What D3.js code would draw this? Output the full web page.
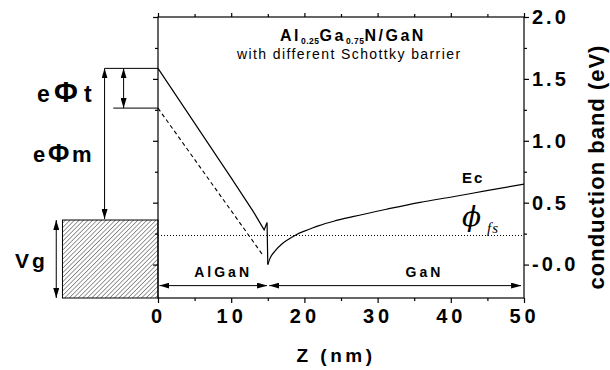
<!DOCTYPE html>
<html>
<head>
<meta charset="utf-8">
<script src="https://cdn.jsdelivr.net/npm/d3@7"></script>
<style>
  body { margin: 0; background: #fff; }
  svg { display: block; font-family: "Liberation Sans", Arial, sans-serif; }
  .axis path, .axis line { stroke: #000; stroke-width: 1.2; }
  .axis text { font-weight: bold; font-size: 20px; fill: #000; }
</style>
</head>
<body>
<svg id="band" width="610" height="370"></svg>
<script>
// conduction band, solid = higher Schottky barrier (AlGaN side)
const zSolid = [0, 10, 13, 14.5, 14.9, 15.0];
const vSolid = [1.585, 0.70, 0.43, 0.28, 0.34, 0.0];
// dashed = lower barrier
const zDashed = [0, 14.4];
const vDashed = [1.264, 0.07];
// GaN side (shared)
const zGaN = [15.0, 15.3, 16, 17, 18, 19, 20, 22, 24, 26.6, 31.2, 35.8, 40.3, 44.9, 50];
const vGaN = [0.0, 0.05, 0.11, 0.17, 0.21, 0.245, 0.27, 0.315, 0.35, 0.387, 0.447, 0.503, 0.548, 0.597, 0.65];
// fermi level
const vFermi = 0.235;
// barrier heights / gate box
const ePhiT = [1.585, 1.264];
const gateTop = 0.36;

const xTicks = [0, 10, 20, 30, 40, 50];
const xMinor = [5, 15, 25, 35, 45];
const yTicks = [0, 0.5, 1.0, 1.5, 2.0];
const yTickLabels = ["-0.0", "0.5", "1.0", "1.5", "2.0"];
const yMinor = [0.25, 0.75, 1.25, 1.75];

const svg = d3.select("#band");
var margins = {top: 17, right: 86, bottom: 72, left: 158};
var chartWidth = svg.attr("width") - margins.left - margins.right;
var chartHeight = svg.attr("height") - margins.top - margins.bottom;

var scaleZ = d3.scaleLinear().domain([0, 50]).range([margins.left, margins.left + chartWidth]);
var scaleV = d3.scaleLinear().domain([-0.27, 2.0]).range([margins.top + chartHeight, margins.top]);
const yBot = scaleV(-0.27), yTop = scaleV(2.0);

// markers for arrows
const defs = svg.append("defs");
defs.append("marker").attr("id", "arr")
    .attr("viewBox", "0 0 10 6").attr("refX", 10).attr("refY", 3)
    .attr("markerWidth", 10).attr("markerHeight", 6)
    .attr("markerUnits", "userSpaceOnUse").attr("orient", "auto-start-reverse")
  .append("path").attr("d", "M0,0 L10,3 L0,6 Z").attr("fill", "#000");
const pat = defs.append("pattern").attr("id", "hatch")
    .attr("patternUnits", "userSpaceOnUse").attr("width", 3.2).attr("height", 3.2)
    .attr("patternTransform", "rotate(45)");
pat.append("line").attr("x1", 0).attr("y1", 0).attr("x2", 0).attr("y2", 3.2)
    .attr("stroke", "#000").attr("stroke-width", 0.8);

// axes, ticks outside on all four sides
function yAxis(gen, x, vals, size, fmt) {
  return svg.append("g").attr("class", "axis").attr("transform", `translate(${x},0)`)
    .call(gen(scaleV).tickValues(vals).tickSize(size).tickSizeOuter(0).tickPadding(3).tickFormat(fmt));
}
function xAxis(gen, y, vals, size, fmt) {
  return svg.append("g").attr("class", "axis").attr("transform", `translate(0,${y})`)
    .call(gen(scaleZ).tickValues(vals).tickSize(size).tickSizeOuter(0).tickPadding(3).tickFormat(fmt));
}
const rightAx = yAxis(d3.axisRight, scaleZ(50), yTicks, 5, (d, i) => yTickLabels[i]);
yAxis(d3.axisRight, scaleZ(50), yMinor, 3, "");
yAxis(d3.axisLeft, scaleZ(0), yTicks, 5, "");
yAxis(d3.axisLeft, scaleZ(0), yMinor, 3, "");
const bottomAx = xAxis(d3.axisBottom, yBot, xTicks, 5, d3.format("d"));
xAxis(d3.axisBottom, yBot, xMinor, 3, "");
xAxis(d3.axisTop, yTop, xTicks, 4, "");
xAxis(d3.axisTop, yTop, xMinor, 3, "");
svg.selectAll(".axis .domain").remove();
svg.append("rect").attr("x", scaleZ(0)).attr("y", yTop)
   .attr("width", scaleZ(50) - scaleZ(0)).attr("height", yBot - yTop)
   .attr("fill", "none").attr("stroke", "#000").attr("stroke-width", 1.2);

rightAx.selectAll("text").attr("letter-spacing", 3);
bottomAx.selectAll("text").attr("font-size", 21).attr("letter-spacing", 4).attr("dy", "0.85em");

// axis titles
svg.append("text").attr("x", 336).attr("y", 362).attr("text-anchor", "middle")
   .attr("font-weight", "bold").attr("font-size", 19).attr("letter-spacing", 3.5)
   .text("Z (nm)");
svg.append("text").attr("transform", "translate(604,167) rotate(-90)").attr("text-anchor", "middle")
   .attr("font-weight", "bold").attr("font-size", 22).attr("letter-spacing", 1)
   .text("conduction band (eV)");

// fermi level
svg.append("line").attr("x1", scaleZ(0)).attr("x2", scaleZ(50))
   .attr("y1", scaleV(vFermi)).attr("y2", scaleV(vFermi))
   .attr("stroke", "#000").attr("stroke-width", 1).attr("stroke-dasharray", "1,2");

// curves
const line = d3.line().x(d => scaleZ(d[0])).y(d => scaleV(d[1]));
svg.append("path").datum(d3.zip(zSolid, vSolid)).attr("d", line)
   .attr("fill", "none").attr("stroke", "#000").attr("stroke-width", 1.2);
svg.append("path").datum(d3.zip(zDashed, vDashed)).attr("d", line)
   .attr("fill", "none").attr("stroke", "#000").attr("stroke-width", 1.1).attr("stroke-dasharray", "4,3");
svg.append("path").datum(d3.zip(zGaN, vGaN)).attr("d", line.curve(d3.curveMonotoneX))
   .attr("fill", "none").attr("stroke", "#000").attr("stroke-width", 1.2);

// region arrows
function arrow(x1, y1, x2, y2, both) {
  const l = svg.append("line").attr("x1", x1).attr("y1", y1).attr("x2", x2).attr("y2", y2)
     .attr("stroke", "#000").attr("stroke-width", 1).attr("marker-end", "url(#arr)");
  if (both) l.attr("marker-start", "url(#arr)");
}
const vRegion = -0.17;
arrow(scaleZ(0.2), scaleV(vRegion), scaleZ(14.9), scaleV(vRegion), true);
arrow(scaleZ(15.2), scaleV(vRegion), scaleZ(49.6), scaleV(vRegion), true);
svg.append("text").attr("x", scaleZ(8.9)).attr("y", 277).attr("text-anchor", "middle")
   .attr("font-weight", "bold").attr("font-size", 14).attr("letter-spacing", 3).text("AlGaN");
svg.append("text").attr("x", scaleZ(36.4)).attr("y", 277).attr("text-anchor", "middle")
   .attr("font-weight", "bold").attr("font-size", 14).attr("letter-spacing", 3).text("GaN");

// barrier annotations left of axis
svg.append("line").attr("x1", scaleZ(-7.3)).attr("x2", scaleZ(0))
   .attr("y1", scaleV(ePhiT[0])).attr("y2", scaleV(ePhiT[0])).attr("stroke", "#000").attr("stroke-width", 1);
svg.append("line").attr("x1", scaleZ(-6.1)).attr("x2", scaleZ(0))
   .attr("y1", scaleV(ePhiT[1])).attr("y2", scaleV(ePhiT[1])).attr("stroke", "#000").attr("stroke-width", 1);
arrow(scaleZ(-4.7), scaleV(ePhiT[0]), scaleZ(-4.7), scaleV(ePhiT[1]), true);
arrow(scaleZ(-7.3), scaleV(ePhiT[0]), scaleZ(-7.3), scaleV(gateTop) - 1, true);
svg.append("rect").attr("x", scaleZ(-13.05)).attr("y", scaleV(gateTop))
   .attr("width", scaleZ(0) - scaleZ(-13.05)).attr("height", yBot - scaleV(gateTop))
   .attr("fill", "url(#hatch)").attr("stroke", "#000").attr("stroke-width", 1);
arrow(scaleZ(-13.9), scaleV(gateTop), scaleZ(-13.9), yBot, true);

const lab = svg.append("g").attr("font-weight", "bold").attr("fill", "#000");
const t1 = lab.append("text").attr("y", 102);
t1.append("tspan").attr("x", 37).attr("font-size", 23).text("e");
t1.append("tspan").attr("x", 54).attr("font-size", 29).text("Φ");
t1.append("tspan").attr("x", 84).attr("font-size", 23).text("t");
const t2 = lab.append("text").attr("y", 162);
t2.append("tspan").attr("x", 33).attr("font-size", 22).text("e");
t2.append("tspan").attr("x", 48).attr("font-size", 26).text("Φ");
t2.append("tspan").attr("x", 72).attr("font-size", 22).text("m");
lab.append("text").attr("x", 15).attr("y", 268).attr("font-size", 21).attr("letter-spacing", 3).text("Vg");

// title
const ti = svg.append("text").attr("x", 280).attr("y", 41).attr("font-weight", "bold")
   .attr("font-size", 16).attr("letter-spacing", 2.5);
ti.append("tspan").text("Al");
ti.append("tspan").attr("font-size", 8.5).attr("dy", 2.5).attr("letter-spacing", 0.5).text("0.25");
ti.append("tspan").attr("dy", -2.5).text("Ga");
ti.append("tspan").attr("font-size", 8.5).attr("dy", 2.5).attr("letter-spacing", 0.5).text("0.75");
ti.append("tspan").attr("dy", -2.5).text("N/GaN");
svg.append("text").attr("x", 237).attr("y", 59).attr("font-size", 14).attr("letter-spacing", 1.4)
   .text("with different Schottky barrier");

// Ec and phi_fs
svg.append("text").attr("x", 462).attr("y", 183).attr("font-weight", "bold")
   .attr("font-size", 15).attr("letter-spacing", 2).text("Ec");
svg.append("text").attr("x", 462).attr("y", 226).attr("font-family", "DejaVu Serif, Liberation Serif, serif")
   .attr("font-style", "italic").attr("font-size", 28).text("ϕ");
svg.append("text").attr("x", 487).attr("y", 233).attr("font-family", "Liberation Serif, serif")
   .attr("font-style", "italic").attr("font-size", 15).attr("letter-spacing", 1).text("fs");
</script>
</body>
</html>
